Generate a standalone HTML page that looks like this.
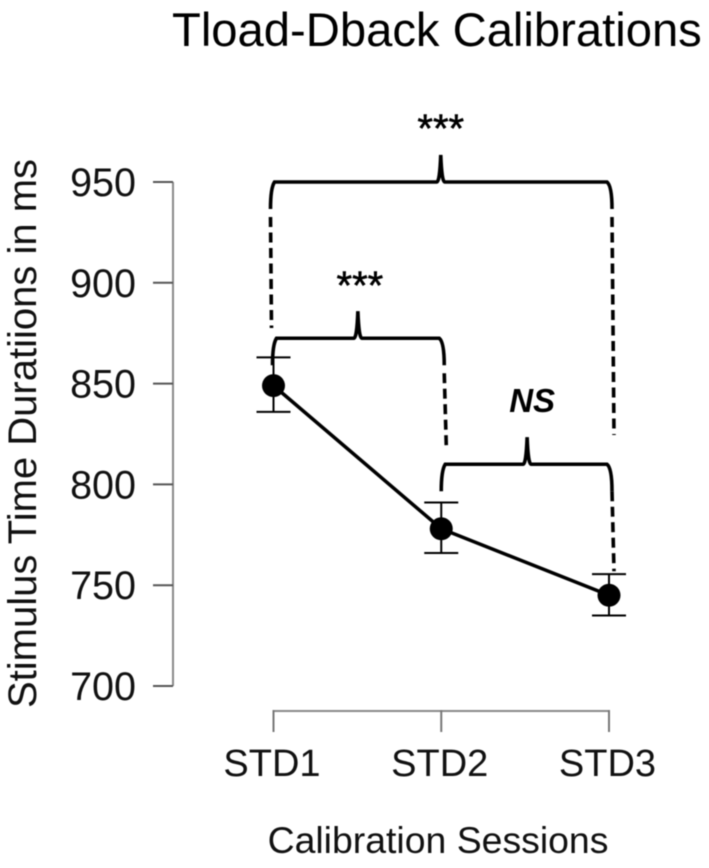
<!DOCTYPE html>
<html lang="en">
<head>
<meta charset="utf-8">
<title>Tload-Dback Calibrations</title>
<style>
html,body{margin:0;padding:0;background:#fff;}
body{width:709px;height:868px;overflow:hidden;}
svg{display:block;filter:blur(0.4px);font-family:"Liberation Sans",Arial,sans-serif;}
</style>
</head>
<body>
<svg id="chart" width="709" height="868" viewBox="0 0 709 868" xmlns="http://www.w3.org/2000/svg">
<rect width="709" height="868" fill="#fff"/>
<text x="172" y="46" font-size="47.2" fill="#000">Tload-Dback Calibrations</text>
<text transform="translate(36,708) rotate(-90)" font-size="40" fill="#111">Stimulus Time Duratiions in ms</text>
<text x="438" y="853" text-anchor="middle" font-size="37.4" fill="#111">Calibration Sessions</text>
</svg>
<script>
const categories = ['STD1', 'STD2', 'STD3'];
const means = [849, 778, 745];
const errorUpper = [863, 791, 755.5];
const errorLower = [836, 766, 735];
const yTicks = [700, 750, 800, 850, 900, 950];
const comparisonFrom = [0, 0, 1];
const comparisonTo = [1, 2, 2];
const comparisonLabels = ['***', '***', 'NS'];
const comparisonLevels = [872.5, 950, 810];

const svg = document.getElementById('chart');
const NS = 'http://www.w3.org/2000/svg';
const xScale = i => 273.5 + i * 167.75;
const yScale = v => 182 + (950 - v) * 2.016;

function add(tag, attrs, text) {
  const el = document.createElementNS(NS, tag);
  for (const k in attrs) el.setAttribute(k, attrs[k]);
  if (text !== undefined) el.textContent = text;
  svg.appendChild(el);
  return el;
}

// Y axis
const yAxis = add('line', {x1: 173, x2: 173, y1: yScale(yTicks[yTicks.length - 1]), y2: yScale(yTicks[0]), stroke: '#8a8a8a', 'stroke-width': 2});


yTicks.forEach(t => {
  const tick = add('line', {x1: 153, x2: 173, y1: yScale(t), y2: yScale(t), stroke: '#555', 'stroke-width': 2});
  
  
  const label = add('text', {x: 136, y: yScale(t) + 14, 'text-anchor': 'end', 'font-size': 39.5, fill: '#111'}, String(t));
  
  
});

// X axis
const xAxis = add('line', {x1: xScale(0), x2: xScale(categories.length - 1), y1: 711, y2: 711, stroke: '#8a8a8a', 'stroke-width': 2});


categories.forEach((c, i) => {
  const tick = add('line', {x1: xScale(i), x2: xScale(i), y1: 710, y2: 732, stroke: '#777', 'stroke-width': 2});
  
  
  const label = add('text', {x: xScale(i) - 1.5, y: 776, 'text-anchor': 'middle', 'font-size': 38, fill: '#111'}, c);
  
  
});

// Error bars
categories.forEach((c, i) => {
  const x = xScale(i);
  const stem = add('line', {x1: x, x2: x, y1: yScale(errorUpper[i]), y2: yScale(errorLower[i]), stroke: '#000', 'stroke-width': 2});
  
  
  [errorUpper[i], errorLower[i]].forEach((v, j) => {
    const cap = add('line', {x1: x - 17, x2: x + 17, y1: yScale(v), y2: yScale(v), stroke: '#000', 'stroke-width': 2});
    
    
  });
});

// Mean line
const meanLine = add('polyline', {points: means.map((v, i) => xScale(i) + ',' + yScale(v)).join(' '), fill: 'none', stroke: '#000', 'stroke-width': 3.5});


means.forEach((v, i) => {
  const pt = add('circle', {cx: xScale(i), cy: yScale(v), r: 11.5, fill: '#000'});
  
  
});

// Significance brackets: dashed drop length per side, in pixels below the bracket
const dropLeft = [0, 146, 0];
const dropRight = [107, 253, 107];
const labelShiftX = [2, 0, 5];
const labelShiftY = [39, 40, 52];
comparisonLabels.forEach((lab, i) => {
  const xl = xScale(comparisonFrom[i]) - (i === 1 ? 2 : 0) + (i === 2 ? 1 : 0);
  const xr = xScale(comparisonTo[i]) + 1;
  const y = yScale(comparisonLevels[i]);
  const xm = (xl + xr) / 2 + (i === 2 ? 1 : 0);
  const d = 'M' + (xl - 1) + ' ' + (y + 27) + ' Q' + (xl - 1) + ' ' + (y + 6) + ' ' + (xl + 3) + ' ' + y +
    ' L' + (xm - 4) + ' ' + y + ' Q' + (xm - 1) + ' ' + y + ' ' + xm + ' ' + (y - 27) +
    ' Q' + (xm + 1) + ' ' + y + ' ' + (xm + 4) + ' ' + y +
    ' L' + (xr - 3) + ' ' + y + ' Q' + (xr + 2) + ' ' + (y + 4) + ' ' + (xr + 2) + ' ' + (y + 27);
  const br = add('path', {d: d, fill: 'none', stroke: '#000', 'stroke-width': 3.6});
  
  
  if (dropLeft[i] > 0) {
    const dl = add('line', {x1: xl - 1, x2: xl, y1: y + 35, y2: y + dropLeft[i], stroke: '#000', 'stroke-width': 3.6, 'stroke-dasharray': '10 5.5'});
    
    
  }
  if (dropRight[i] > 0) {
    const dr = add('line', {x1: xr + 2, x2: xr + 4, y1: y + 35 - (i === 2 ? 8 : 0), y2: y + dropRight[i], stroke: '#000', 'stroke-width': 3.6, 'stroke-dasharray': '10 5.5'});
    
    
  }
  const isNs = lab === 'NS';
  const t = add('text', {x: xm + labelShiftX[i], y: y - labelShiftY[i], 'text-anchor': 'middle', 'font-size': isNs ? 33 : 40, 'font-weight': isNs ? 'bold' : 'normal', 'font-style': isNs ? 'italic' : 'normal', fill: '#000', stroke: isNs ? 'none' : '#000', 'stroke-width': isNs ? 0 : 0.6}, lab);
  
  
});
</script>
</body>
</html>
